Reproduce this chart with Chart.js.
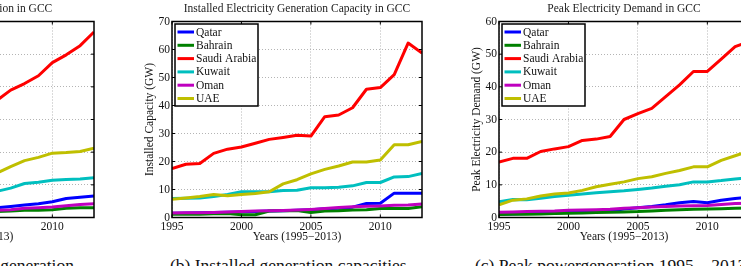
<!DOCTYPE html>
<html><head><meta charset="utf-8">
<script src="https://cdn.jsdelivr.net/npm/chart.js@4/dist/chart.umd.min.js"></script>
<style>
html,body{margin:0;padding:0;background:#fff;}
#wrap{position:relative;width:741px;height:266px;overflow:hidden;background:#fff;}
.cv{position:absolute;top:0;}
.cap{position:absolute;top:257px;font:17.5px/17.5px 'Liberation Serif',serif;white-space:nowrap;color:#111;}
</style></head><body>
<div id="wrap">
<canvas id="c1" class="cv" width="300" height="245" style="left:-188px"></canvas>
<canvas id="c2" class="cv" width="300" height="245" style="left:140px"></canvas>
<canvas id="c3" class="cv" width="300" height="245" style="left:467px"></canvas>
<div class="cap" style="left:-326px;width:400px;text-align:right">(a) Total electricity generation</div>
<div class="cap" style="left:170px">(b) Installed generation capacities</div>
<div class="cap" style="left:475px">(c) Peak powergeneration 1995 – 2013</div>
</div>
<script>
// ---- data ----
const years = [1995,1996,1997,1998,1999,2000,2001,2002,2003,2004,2005,2006,2007,2008,2009,2010,2011,2012,2013];
const countries = ['Qatar','Bahrain','Saudi Arabia','Kuwait','Oman','UAE'];

// (a) electricity generation (TWh)
const genQatar   = [9,9.5,10,10.5,11,11.5,12,12.5,13,14,14.5,15,17,19,21,24,29,31,33];
const genBahrain = [4.5,5,5.2,5.5,6,6.3,6.7,7,7.5,8,8.5,9,10,11,11,12,14,15,15];
const genSaudi   = [100,105,110,115,120,126,135,140,150,158,165,179,195,205,217,237,249,263,284];
const genKuwait  = [25,26,27,28,29,31,32,33,35,37,39,40,45,52,54,57,58,59,61];
const genOman    = [6,6.5,7,7.5,8,8.5,9,9.5,10,10.5,11,11,12,14,15,16,18,20,21];
const genUAE     = [30,32,35,38,40,42,45,49,53,57,62,68,78,87,92,98.5,99.5,101,106];

// (b) installed capacity (GW)
const capQatar   = [1.5,1.6,1.7,1.8,1.9,2.0,2.1,2.3,2.4,2.6,2.8,3.1,3.3,3.7,5.0,5.1,8.7,8.7,8.7];
const capBahrain = [1.2,1.2,1.2,1.3,1.4,1.0,1.0,2.3,2.4,2.5,1.8,2.3,2.4,2.7,2.8,3.2,3.2,3.2,3.8];
const capSaudi   = [17.5,19.0,19.3,22.9,24.4,25.2,26.5,27.9,28.6,29.4,29.1,36.0,36.6,39.2,45.8,46.4,51.0,62.3,58.7];
const capKuwait  = [6.8,6.9,7.0,7.5,8.2,9.2,9.2,9.2,9.6,9.7,10.6,10.6,10.8,11.3,12.5,12.5,14.5,14.6,15.7];
const capOman    = [1.6,1.7,1.7,1.8,2.0,2.1,2.3,2.4,2.5,2.7,2.9,3.2,3.6,3.8,4.0,4.1,4.4,4.5,4.8];
const capUAE     = [6.5,7.0,7.5,8.2,7.8,8.2,8.6,9.2,12.0,13.5,15.6,17.2,18.4,19.8,19.8,20.5,26.0,26.0,27.2];

// (c) peak demand (GW)
const peakQatar   = [1.0,1.1,1.2,1.3,1.4,1.6,1.7,1.8,2.0,2.6,3.0,3.4,3.9,4.5,4.9,4.5,5.3,5.8,6.2];
const peakBahrain = [0.9,1.0,1.0,1.1,1.2,1.3,1.4,1.5,1.6,1.7,1.8,2.0,2.2,2.4,2.5,2.6,2.7,2.8,2.9];
const peakSaudi   = [17.0,18.1,18.1,20.2,21.0,21.7,23.6,24.0,24.8,30.0,31.8,33.4,37.0,40.6,44.7,44.7,48.5,52.3,53.8];
const peakKuwait  = [4.8,5.5,5.4,5.9,6.4,6.8,7.2,7.6,7.9,8.2,8.6,9.0,9.6,10.0,10.9,10.9,11.3,11.8,12.2];
const peakOman    = [1.6,1.7,1.8,1.9,2.0,2.2,2.3,2.4,2.5,2.8,3.0,3.2,3.4,3.5,3.6,3.7,4.0,4.3,4.4];
const peakUAE     = [3.9,5.3,5.7,6.6,7.2,7.5,8.3,9.4,10.2,10.9,11.9,12.5,13.5,14.4,15.5,15.5,17.5,18.9,20.3];

const xTickYears = [1995,2000,2005,2010];

// ---- styles ----
const lineColors = ['#0000ff','#008000','#ff0000','#00bfbf','#bf00bf','#bfbf00'];
const FONT = "'Liberation Serif','Times New Roman',serif";
Chart.defaults.font.family = FONT;
Chart.defaults.font.size = 11.5;
Chart.defaults.color = '#111';

const matlabFrame = {
  id: 'matlabFrame',
  afterDraw(chart) {
    const {ctx, chartArea: a, scales: {x, y}} = chart;
    ctx.save();
    ctx.strokeStyle = '#000';
    ctx.lineWidth = 1;
    ctx.beginPath();
    x.ticks.forEach(t => {
      const p = x.getPixelForValue(t.value);
      ctx.moveTo(p, a.bottom); ctx.lineTo(p, a.bottom - 3);
      ctx.moveTo(p, a.top); ctx.lineTo(p, a.top + 3);
    });
    y.ticks.forEach(t => {
      const p = y.getPixelForValue(t.value);
      ctx.moveTo(a.left, p); ctx.lineTo(a.left + 3, p);
      ctx.moveTo(a.right, p); ctx.lineTo(a.right - 3, p);
    });
    ctx.stroke();
    ctx.lineWidth = 1.5;
    ctx.strokeRect(a.left, a.top, a.width, a.height);
    // legend box
    const lx = a.left + 3, ly = a.top + 2.5, lw = 83, lh = 82;
    ctx.fillStyle = '#fff';
    ctx.fillRect(lx, ly, lw, lh);
    ctx.lineWidth = 1.5;
    ctx.strokeRect(lx, ly, lw, lh);
    ctx.font = '11.5px ' + FONT;
    ctx.textBaseline = 'middle';
    ctx.textAlign = 'left';
    chart.data.datasets.forEach((ds, i) => {
      const cy = a.top + 10.5 + i * 13.3;
      ctx.strokeStyle = ds.borderColor;
      ctx.lineWidth = 3;
      ctx.beginPath();
      ctx.moveTo(a.left + 5.5, cy); ctx.lineTo(a.left + 22, cy);
      ctx.stroke();
      ctx.fillStyle = '#111';
      ctx.fillText(ds.label, a.left + 24, cy + 0.5);
    });
    ctx.restore();
  }
};

function makeChart(id, series, title, yTitle, yMax, yStep) {
  const datasets = series.map((vals, i) => ({
    label: countries[i],
    data: years.map((yr, k) => ({x: yr, y: vals[k]})),
    borderColor: lineColors[i],
    backgroundColor: lineColors[i],
    borderWidth: 3,
    pointRadius: 0,
    tension: 0,
    fill: false,
    order: series.length - i,
    borderJoinStyle: 'round'
  }));
  return new Chart(document.getElementById(id), {
    type: 'line',
    data: {datasets},
    options: {
      responsive: false,
      devicePixelRatio: 1,
      animation: false,
      layout: {padding: {left: 0, right: 18, top: 0, bottom: 0}},
      plugins: {
        legend: {display: false},
        tooltip: {enabled: false},
        title: {display: true, text: title, fullSize: false, color: '#222',
                font: {size: 11.5, weight: 'normal', lineHeight: 1.2}, padding: {top: 2, bottom: 5.7}}
      },
      scales: {
        x: {
          type: 'linear', min: years[0], max: years[years.length - 1],
          afterBuildTicks: s => { s.ticks = xTickYears.map(v => ({value: v})); },
          ticks: {callback: v => String(v), padding: 3, maxRotation: 0, autoSkip: false, font: {size: 11.5, lineHeight: 1.2}},
          grid: {color: '#b4b4b4', drawTicks: false, lineWidth: 1},
          border: {display: false, dash: [1, 2]},
          title: {display: true, text: 'Years (1995\u22122013)', font: {size: 11.5, lineHeight: 1.2}, padding: {top: 0, bottom: 1.1}},
          afterFit: s => { s.height = 27.5; }
        },
        y: {
          min: 0, max: yMax,
          ticks: {stepSize: yStep, padding: 2, font: {size: 11.5, lineHeight: 1.2}},
          grid: {color: '#b4b4b4', drawTicks: false, lineWidth: 1},
          border: {display: false, dash: [1, 2]},
          title: {display: true, text: yTitle, font: {size: 11.5, lineHeight: 1.2}, padding: {top: 3.1, bottom: 0}},
          afterFit: s => { s.width = 32; }
        }
      }
    },
    plugins: [matlabFrame]
  });
}

makeChart('c1', [genQatar, genBahrain, genSaudi, genKuwait, genOman, genUAE],
  'Total Electricity Generation in GCC', 'Electricity Generation (TWh)', 300, 50);
makeChart('c2', [capQatar, capBahrain, capSaudi, capKuwait, capOman, capUAE],
  'Installed Electricity Generation Capacity in GCC', 'Installed Capacity (GW)', 70, 10);
makeChart('c3', [peakQatar, peakBahrain, peakSaudi, peakKuwait, peakOman, peakUAE],
  'Peak Electricity Demand in GCC', 'Peak Electricity Demand (GW)', 60, 10);
</script>
</body></html>
